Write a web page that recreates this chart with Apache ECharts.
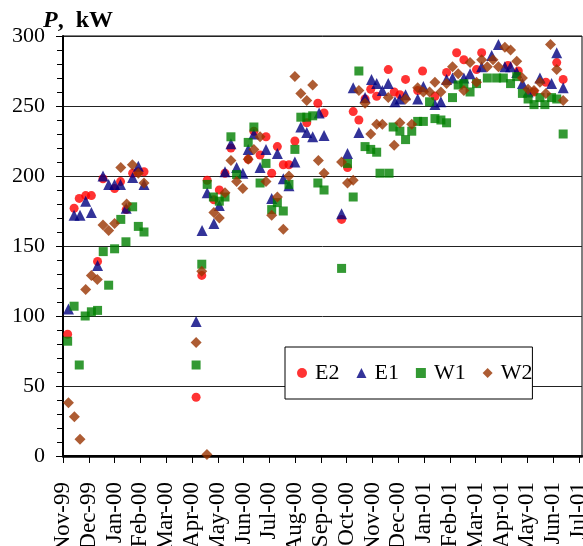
<!DOCTYPE html>
<html>
<head>
<meta charset="utf-8">
<script src="https://cdn.jsdelivr.net/npm/echarts@6/dist/echarts.min.js"></script>
<style>
html,body{margin:0;padding:0;background:#fff;}
#chart{width:583px;height:546px;}
</style>
</head>
<body>
<div id="chart"></div>
<script>
// Month tick labels (x = month index from Nov-99)
const monthLabels = ['Nov-99','Dec-99','Jan-00','Feb-00','Mar-00','Apr-00','May-00','Jun-00','Jul-00','Aug-00','Sep-00','Oct-00','Nov-00','Dec-00','Jan-01','Feb-01','Mar-01','Apr-01','May-01','Jun-01','Jul-01'];
const yTicks = [0, 50, 100, 150, 200, 250, 300];

// E2 (x in months since Nov-99, P in kW)
const e2Month = [0.18,0.43,0.63,0.88,1.10,1.34,1.55,2.00,2.23,2.45,2.70,2.92,3.14,
  5.16,5.38,5.59,5.85,6.06,6.28,6.51,7.18,7.40,7.64,7.87,8.09,8.31,8.54,8.76,8.99,9.45,9.88,10.12,
  10.80,11.03,11.25,11.47,11.71,11.93,12.16,12.61,12.84,13.06,13.28,13.75,13.94,14.42,14.87,15.26,15.54,
  16.03,16.23,17.25,17.65,18.26,18.72,19.14,19.39];
const e2Power = [87,177,184,186,186,139,198,191,196,176,202,203,203,
  42,129,197,183,190,202,220,212,232,215,228,202,221,208,208,225,238,252,245,
  169,206,246,240,255,262,257,276,260,258,269,261,275,257,274,288,283,
  276,288,279,275,260,267,281,269];

// E1
const e1Month = [0.21,0.43,0.66,0.88,1.10,1.34,1.55,1.77,2.00,2.23,2.45,2.70,2.92,3.14,
  5.16,5.39,5.59,5.85,6.06,6.28,6.51,6.73,6.97,7.18,7.40,7.64,7.87,8.09,8.31,8.54,8.76,8.99,9.22,9.45,9.68,9.93,10.12,
  10.80,11.03,11.25,11.47,11.71,11.96,12.16,12.38,12.61,12.87,13.06,13.28,13.75,13.97,14.42,14.65,14.87,15.10,
  15.54,15.78,16.23,16.62,16.88,17.13,17.35,17.59,17.81,18.03,18.49,18.94,19.14,19.39];
const e1Power = [105,172,172,182,174,136,200,194,194,194,177,199,207,194,
  96,161,188,166,179,203,223,206,202,219,230,206,219,184,216,198,193,210,235,231,228,245,229,
  173,216,263,231,256,269,266,261,266,253,255,258,255,264,251,253,269,270,
  270,273,278,286,294,278,278,274,266,260,270,266,288,263];

// W1
const w1Month = [0.18,0.43,0.63,0.86,1.10,1.34,1.56,1.77,2.00,2.24,2.44,2.70,2.92,3.14,
  5.16,5.38,5.59,5.83,6.06,6.28,6.51,6.73,7.18,7.40,7.64,7.87,8.09,8.31,8.54,8.76,8.99,9.22,9.45,9.68,9.88,10.12,
  10.80,11.03,11.25,11.47,11.71,11.93,12.16,12.29,12.64,12.80,13.06,13.28,13.52,13.75,13.97,14.21,14.42,14.65,14.87,
  15.10,15.32,15.54,15.78,16.03,16.45,16.81,17.07,17.35,17.59,17.81,18.03,18.26,18.49,18.68,18.94,19.14,19.39];
const w1Power = [82,107,65,100,103,104,146,122,148,169,153,178,164,160,
  65,137,194,185,182,185,228,201,224,235,195,209,176,181,175,194,219,242,242,243,195,190,
  134,209,185,275,221,219,217,202,202,235,232,226,232,239,239,253,241,240,238,
  256,265,266,260,266,270,270,270,266,271,259,255,251,256,251,256,255,230];

// W2
const w2Month = [0.21,0.44,0.66,0.88,1.10,1.33,1.55,1.77,2.00,2.24,2.47,2.69,2.92,3.14,
  5.16,5.38,5.58,5.85,6.06,6.28,6.51,6.73,6.97,7.18,7.40,7.64,7.87,8.09,8.31,8.54,8.76,8.99,9.22,9.45,9.68,9.90,10.12,
  10.80,11.03,11.25,11.47,11.71,11.93,12.16,12.38,12.61,12.84,13.06,13.28,13.52,13.75,13.97,14.21,14.42,14.65,14.87,
  15.10,15.32,15.54,15.78,16.03,16.23,16.45,16.67,16.88,17.13,17.35,17.59,17.81,18.03,18.26,18.49,18.72,18.90,19.14,19.39];
const w2Power = [38,28,12,119,129,126,165,161,166,206,180,208,202,195,
  81,132,1,174,170,188,211,196,191,212,219,228,196,172,185,162,200,271,259,254,265,211,202,
  210,195,197,261,252,230,237,237,256,222,238,255,237,263,260,260,267,260,266,
  278,273,261,281,267,283,278,283,278,292,290,282,270,262,261,267,259,294,276,254];

function zip(xs, ys){ return xs.map((x,i)=>[x, ys[i]]); }

const serif = '"Liberation Serif","Times New Roman",serif';
const chart = echarts.init(document.getElementById('chart'), null, {renderer:'canvas'});
const monthIdx = monthLabels.map((_, i) => i);

chart.setOption({
  animation: false,
  backgroundColor: '#fff',
  title: {
    text: '{p|P}{n|,  kW}',
    left: 38, top: 4,
    textStyle: {
      rich: {
        p: {fontFamily: serif, fontSize: 24, fontWeight: 'bold', fontStyle: 'italic', color: '#000'},
        n: {fontFamily: serif, fontSize: 24, fontWeight: 'bold', color: '#000'}
      }
    }
  },
  grid: {left: 63, right: 1, top: 36, bottom: 90, containLabel: false, outerBoundsMode: 'none',
         show: true, borderColor: '#000', borderWidth: 1, backgroundColor: 'transparent'},
  legend: {
    left: 285, top: 347,
    orient: 'horizontal',
    backgroundColor: '#fff',
    borderColor: '#000', borderWidth: 1,
    padding: [15, 0, 15, 12],
    itemWidth: 10, itemHeight: 10, itemGap: 17,
    textStyle: {fontFamily: serif, fontSize: 22, color: '#000', padding: [0,0,0,3]},
    data: [
      {name: 'E2', icon: 'circle'},
      {name: 'E1', icon: 'triangle'},
      {name: 'W1', icon: 'rect'},
      {name: 'W2', icon: 'diamond'}
    ]
  },
  xAxis: [{
    type: 'value', min: 0, max: 20.12, interval: 1,
    position: 'bottom',
    axisLine: {show: true, onZero: false, lineStyle: {color: '#000', width: 2}},
    axisTick: {show: true, inside: false, length: 7, lineStyle: {color: '#000', width: 1}, customValues: monthIdx},
    axisLabel: {
      rotate: 90, margin: 26, color: '#000', fontFamily: serif, fontSize: 23,
      customValues: monthIdx,
      formatter: v => { const i = Math.round(v); return Math.abs(v - i) < 1e-6 ? (monthLabels[i] || '') : ''; }
    },
    splitLine: {show: false}
  }, {
    type: 'value', min: 0, max: 20.12, position: 'top',
    axisLine: {show: true, lineStyle: {color: '#000', width: 2.5}},
    axisTick: {show: false}, axisLabel: {show: false}, splitLine: {show: false}
  }],
  yAxis: {
    type: 'value', min: 0, max: 300, interval: 50,
    axisLine: {show: true, lineStyle: {color: '#000', width: 2}},
    axisTick: {show: true, inside: false, length: 7, lineStyle: {color: '#000', width: 1}},
    minorTick: {show: true, splitNumber: 5, length: 6, lineStyle: {color: '#000', width: 1}},
    axisLabel: {
      margin: 18, color: '#000', fontFamily: serif, fontSize: 22,
      formatter: v => (yTicks.indexOf(v) >= 0 ? String(v) : '')
    },
    splitLine: {show: true, lineStyle: {color: '#222', width: 1}}
  },
  series: [
    {name: 'E2', type: 'scatter', symbol: 'circle', symbolSize: 9, itemStyle: {color: '#FF0000'}, data: zip(e2Month, e2Power)},
    {name: 'E1', type: 'scatter', symbol: 'triangle', symbolSize: 11, itemStyle: {color: '#000080'}, data: zip(e1Month, e1Power)},
    {name: 'W1', type: 'scatter', symbol: 'rect', symbolSize: 9, itemStyle: {color: '#008000'}, data: zip(w1Month, w1Power)},
    {name: 'W2', type: 'scatter', symbol: 'diamond', symbolSize: 11, itemStyle: {color: '#993300'}, data: zip(w2Month, w2Power)}
  ]
});
</script>
</body>
</html>
